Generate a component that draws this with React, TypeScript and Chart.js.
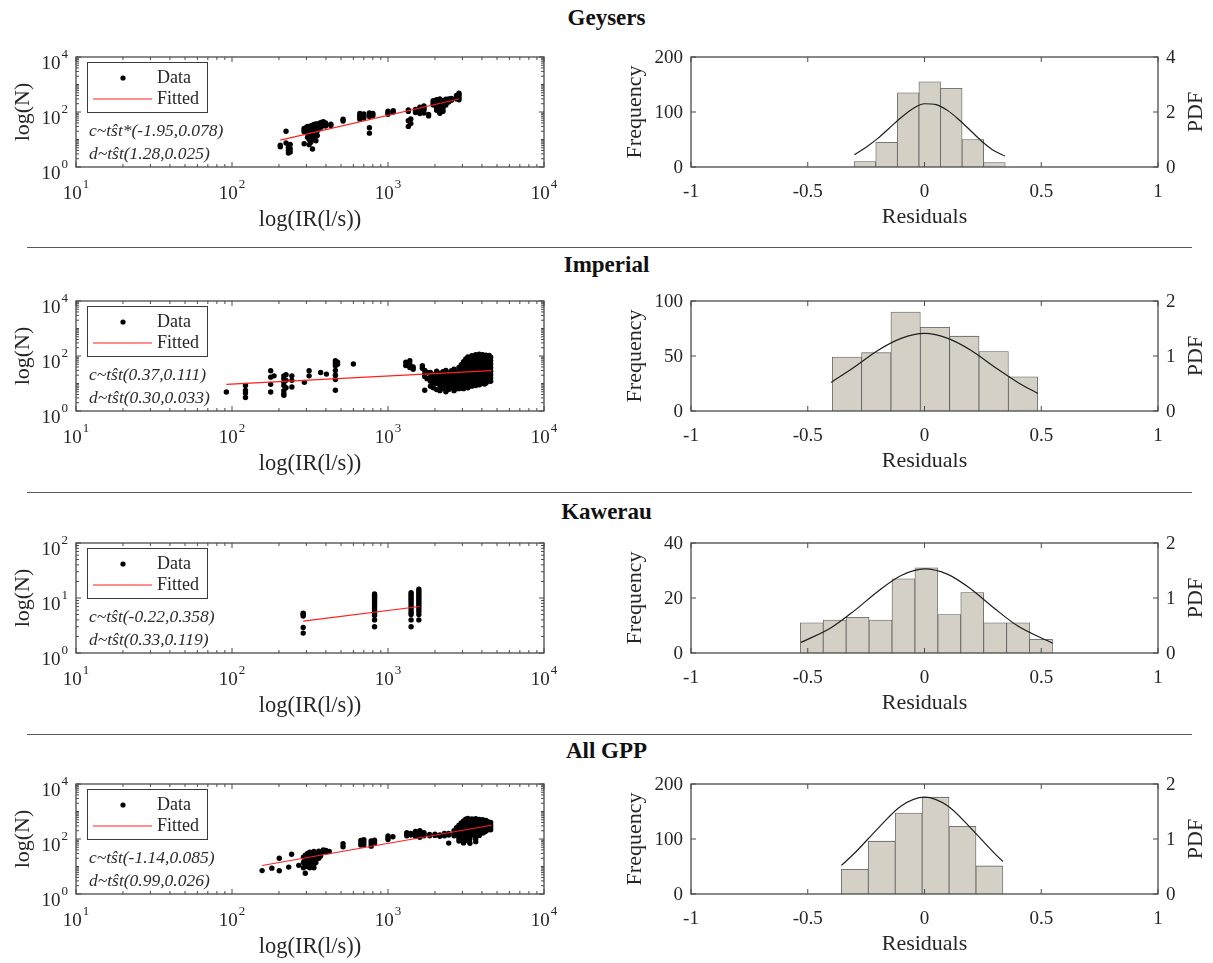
import React, { useEffect, useRef } from 'react';
import { Chart, registerables } from 'chart.js';

Chart.register(...registerables);

const SERIF = '"Liberation Serif", "Times New Roman", serif';
const INK = '#262626';
const FRAME = '#4a4a4a';
const BAR_FILL = '#d5d0c6';
const BAR_EDGE = '#5c5c5c';
const FIT_RED = '#ff1f1f';

// Axis tick labels
const irTickExps = [1, 2, 3, 4];
const nTickExps = [0, 2, 4];
const kawerauNTickExps = [0, 1, 2];
const residualTicks = [-1, -0.5, 0, 0.5, 1];

const irAxisTitle = 'log(IR(l/s))';
const nAxisTitle = 'log(N)';
const residualAxisTitle = 'Residuals';
const freqAxisTitle = 'Frequency';
const pdfAxisTitle = 'PDF';

// ---------- Geysers ----------
const geysersIR = [204, 222, 230, 236, 290, 298, 305, 312, 320, 328, 336, 345, 352, 360, 372, 385, 398, 430, 515, 660, 700, 760, 800, 1000, 1080, 1350, 1400, 1500, 1600, 1700, 1820, 1950, 2050, 2150, 2250, 2350, 2450, 2550, 2750, 2850];
const geysersN = [
  [5.4, 6.2], [20, 7.5], [3.2, 4.1, 5.2], [3.5, 4.6, 6.6],
  [22, 25, 19, 7], [24, 27, 21], [26, 30, 23, 17, 12], [28, 22, 15, 10, 6.5], [25, 31, 19, 14, 8], [22, 27, 33, 17, 12, 4.5], [20, 26, 35, 15, 10], [24, 29, 37, 18, 13, 9], [27, 32, 21, 14], [30, 38, 24], [34, 42, 28], [38, 44, 33], [40, 35, 31], [32, 36],
  [47, 55], [55, 65, 75, 88], [60, 72, 85], [68, 80, 92, 27, 17], [75, 88], [82, 95, 108], [100, 112], [105, 118, 48, 30], [38, 56], [110, 125, 95], [130, 150, 100, 88], [120, 165, 140, 92], [72, 82],
  [180, 230, 260, 200], [210, 250, 280, 170, 140, 115], [230, 270, 300, 190, 100, 90, 150], [200, 240, 260, 150, 120, 105], [250, 290, 220, 180], [260, 300, 230], [270, 310], [300, 350, 400], [320, 380, 430, 480, 280],
];
const geysersFitIR = [204, 2850];
const geysersFitN = [9.5, 296];
const geysersNotes = ['c~tŝt*(-1.95,0.078)', 'd~tŝt(1.28,0.025)'];
const geysersBinCenters = [-0.2548, -0.1624, -0.07, 0.0224, 0.1148, 0.2072, 0.2996];
const geysersCounts = [10, 45, 135, 155, 143, 50, 8];
const geysersPdfX = [-0.3, -0.25, -0.2, -0.15, -0.1, -0.05, 0, 0.05, 0.1, 0.15, 0.2, 0.25, 0.3, 0.345];
const geysersPdfY = [0.45, 0.72, 1.04, 1.42, 1.8, 2.12, 2.3, 2.27, 2.05, 1.7, 1.3, 0.9, 0.58, 0.4];
const geysersFreqTicks = [0, 100, 200];
const geysersPdfTicks = [0, 2, 4];

// ---------- Imperial ----------
const imperialIR = [92, 122, 177, 186, 215, 222, 242, 291, 312, 370, 403, 460, 475, 600, 1300, 1380, 1450, 1660, 1720, 1780, 1870, 1950, 2050, 2150, 2250, 2350, 2450, 2550, 2650, 2750, 2850, 2950, 3050, 3150, 3250, 3350, 3450, 3550, 3650, 3750, 3850, 3950, 4050, 4150, 4250, 4350, 4450, 4550];
const imperialN = [
  [4.9], [8.5, 5.6, 4.5, 3.1], [29, 17, 9.3, 4.9], [19], [19, 15, 11, 8.5, 5.5, 4.3, 3.7], [21, 13, 7], [19, 13, 7.5], [11], [29, 19], [25], [22], [67, 55, 44, 30, 20, 14, 5.7], [60, 50], [51],
  [60, 45], [67, 50, 38], [40, 33], [44, 36], [30, 22, 18, 5.7], [25, 15],
  [25, 17, 12, 8], [21, 15, 10.5, 7], [28, 20, 14, 10, 6], [23, 16, 11.5, 8.5, 5.5], [27, 19, 13.5, 9.5, 6.5], [30, 21, 15, 10.5, 7.5, 5], [24, 17, 12, 8.5, 6], [29, 20, 14, 10, 7], [33, 23, 16, 11, 8, 5.5], [27, 19, 13, 9, 6.5], [38, 26, 18, 12.5, 9, 6.5],
  [48, 36, 28, 21, 16, 12, 9, 7], [62, 47, 36, 27, 20, 15, 11, 8.5, 6.5], [78, 60, 45, 34, 26, 19, 14, 10.5, 8], [92, 70, 53, 40, 30, 23, 17, 13, 9.5, 7], [86, 66, 50, 38, 29, 22, 16, 12, 9], [102, 78, 59, 45, 34, 26, 19, 14, 10.5, 8], [96, 73, 55, 42, 32, 24, 18, 13, 10], [112, 85, 64, 48, 36, 27, 20, 15, 11, 8.5], [106, 80, 60, 45, 34, 25, 19, 14, 10], [116, 88, 66, 50, 38, 28, 21, 16, 12, 9], [100, 76, 57, 43, 32, 24, 18, 13, 10], [112, 84, 63, 47, 35, 26, 20, 15, 11], [98, 74, 56, 42, 31, 23, 17, 13, 9.5], [108, 82, 61, 46, 34, 25, 19, 14, 10.5], [94, 71, 53, 40, 30, 22, 16, 12], [104, 78, 58, 44, 33, 24, 18, 13.5], [90, 68, 51, 38, 28, 21, 16, 12],
];
const imperialFitIR = [92, 4600];
const imperialFitN = [9.3, 29.4];
const imperialNotes = ['c~tŝt(0.37,0.111)', 'd~tŝt(0.30,0.033)'];
const imperialBinCenters = [-0.3322, -0.2065, -0.0808, 0.0449, 0.1706, 0.2963, 0.422];
const imperialCounts = [49, 53, 90, 76, 68, 54, 31];
const imperialPdfX = [-0.4, -0.3, -0.2, -0.1, 0, 0.1, 0.2, 0.3, 0.4, 0.485];
const imperialPdfY = [0.52, 0.8, 1.1, 1.32, 1.41, 1.32, 1.1, 0.8, 0.52, 0.32];
const imperialFreqTicks = [0, 50, 100];
const imperialPdfTicks = [0, 1, 2];

// ---------- Kawerau ----------
const kawerauIR = [286, 820, 1406, 1577];
const kawerauN = [
  [5.3, 5.0, 4.7, 2.9, 2.3],
  [11.8, 11.2, 10.6, 10.0, 9.4, 8.8, 8.2, 7.6, 7.0, 6.4, 5.8, 5.3, 4.8, 4.0, 3.0],
  [12.5, 11.6, 10.7, 9.8, 9.0, 8.2, 7.5, 6.8, 6.1, 5.5, 5.0, 4.0, 3.0],
  [14.5, 13.5, 12.5, 11.5, 10.6, 9.8, 9.0, 8.3, 7.6, 7.0, 6.3, 5.7, 5.0, 4.0],
];
const kawerauFitIR = [286, 1600];
const kawerauFitN = [3.8, 7.0];
const kawerauNotes = ['c~tŝt(-0.22,0.358)', 'd~tŝt(0.33,0.119)'];
const kawerauBinCenters = [-0.4829, -0.3847, -0.2865, -0.1883, -0.0901, 0.0081, 0.1063, 0.2045, 0.3027, 0.4009, 0.4991];
const kawerauCounts = [11, 12, 13, 12, 27, 31, 14, 22, 11, 11, 5];
const kawerauPdfX = [-0.53, -0.4, -0.3, -0.2, -0.1, 0, 0.1, 0.2, 0.3, 0.4, 0.548];
const kawerauPdfY = [0.19, 0.46, 0.77, 1.12, 1.41, 1.53, 1.43, 1.16, 0.81, 0.49, 0.18];
const kawerauFreqTicks = [0, 20, 40];
const kawerauPdfTicks = [0, 1, 2];

// ---------- All GPP ----------
const allIR = [156, 180, 201, 231, 241, 268, 287, 295, 305, 315, 325, 335, 345, 360, 370, 385, 400, 420, 515, 670, 700, 780, 820, 1000, 1075, 1320, 1400, 1500, 1600, 1700, 1850, 2000, 2150, 2300, 2450, 2650, 2750, 2850, 2950, 3050, 3150, 3250, 3350, 3450, 3550, 3650, 3750, 3850, 3950, 4050, 4150, 4250, 4400, 4550];
const allN = [
  [7.1], [8.7], [20, 7], [9.5], [28], [11],
  [22, 14, 9], [26, 18, 12, 5.7], [30, 23, 16, 10], [33, 25, 19, 13, 9], [28, 21, 15, 11], [35, 26, 18, 12, 9], [30, 22, 14], [36, 27, 20], [32, 24], [40, 36], [38, 34], [35],
  [67, 52], [60, 72, 88], [62, 78, 95], [55, 68, 85], [72, 90], [95, 110, 130], [120], [130, 150, 170], [140, 160], [150, 190, 125], [160, 200, 140, 115], [130, 150, 170], [130, 145], [135, 150], [140, 125], [130, 150, 160], [140, 71, 160],
  [200, 160, 130], [260, 210, 170, 140], [320, 260, 210, 170, 135, 105, 85], [380, 300, 240, 195, 155, 120], [450, 360, 290, 230, 185, 150, 115, 90, 72], [520, 420, 330, 265, 210, 170, 135], [560, 450, 360, 290, 230, 185, 150, 115, 88], [500, 400, 320, 255, 205, 165, 130, 100, 70], [540, 430, 345, 275, 220, 175, 140], [480, 385, 310, 250, 200, 160], [550, 440, 350, 280, 225, 180, 140, 105, 80],
  [470, 375, 300, 240, 190, 150], [510, 410, 330, 265, 210, 170, 135], [460, 370, 295, 235, 190], [500, 400, 320, 255, 205, 165], [440, 350, 280, 225, 180], [470, 380, 300, 240, 195], [420, 340, 275, 220], [400, 320, 260, 215],
];
const allFitIR = [156, 4600];
const allFitN = [10.9, 316];
const allNotes = ['c~tŝt(-1.14,0.085)', 'd~tŝt(0.99,0.026)'];
const allBinCenters = [-0.2984, -0.1831, -0.0678, 0.0475, 0.1628, 0.2781];
const allCounts = [45, 96, 147, 176, 123, 51];
const allPdfX = [-0.356, -0.3, -0.2, -0.1, 0, 0.1, 0.2, 0.3, 0.336];
const allPdfY = [0.52, 0.74, 1.19, 1.6, 1.76, 1.6, 1.19, 0.74, 0.59];
const allFreqTicks = [0, 100, 200];
const allPdfTicks = [0, 1, 2];

// Figure layout (page pixels)
const separatorYs = [247, 492, 734];

const rows = [
  { title: 'Geysers', top: 57, titleY: 19, ir: geysersIR, n: geysersN, fitIR: geysersFitIR, fitN: geysersFitN, notes: geysersNotes, nExps: nTickExps, bins: geysersBinCenters, counts: geysersCounts, pdfX: geysersPdfX, pdfY: geysersPdfY, freqTicks: geysersFreqTicks, pdfTicks: geysersPdfTicks },
  { title: 'Imperial', top: 301, titleY: 266, ir: imperialIR, n: imperialN, fitIR: imperialFitIR, fitN: imperialFitN, notes: imperialNotes, nExps: nTickExps, bins: imperialBinCenters, counts: imperialCounts, pdfX: imperialPdfX, pdfY: imperialPdfY, freqTicks: imperialFreqTicks, pdfTicks: imperialPdfTicks },
  { title: 'Kawerau', top: 543, titleY: 513, ir: kawerauIR, n: kawerauN, fitIR: kawerauFitIR, fitN: kawerauFitN, notes: kawerauNotes, nExps: kawerauNTickExps, bins: kawerauBinCenters, counts: kawerauCounts, pdfX: kawerauPdfX, pdfY: kawerauPdfY, freqTicks: kawerauFreqTicks, pdfTicks: kawerauPdfTicks },
  { title: 'All GPP', top: 784, titleY: 752, ir: allIR, n: allN, fitIR: allFitIR, fitN: allFitN, notes: allNotes, nExps: nTickExps, bins: allBinCenters, counts: allCounts, pdfX: allPdfX, pdfY: allPdfY, freqTicks: allFreqTicks, pdfTicks: allPdfTicks },
];

type Row = (typeof rows)[number];

function line(ctx: CanvasRenderingContext2D, x1: number, y1: number, x2: number, y2: number) {
  ctx.beginPath();
  ctx.moveTo(x1, y1);
  ctx.lineTo(x2, y2);
  ctx.stroke();
}

function rotatedText(ctx: CanvasRenderingContext2D, text: string, x: number, y: number) {
  ctx.save();
  ctx.translate(x, y);
  ctx.rotate(-Math.PI / 2);
  ctx.textAlign = 'center';
  ctx.textBaseline = 'middle';
  ctx.fillText(text, 0, 0);
  ctx.restore();
}

function drawFrame(ctx: CanvasRenderingContext2D, a: any) {
  ctx.strokeStyle = FRAME;
  ctx.lineWidth = 1.3;
  ctx.strokeRect(a.left, a.top, a.right - a.left, a.bottom - a.top);
}

// "10" with a raised exponent
function drawPower(ctx: CanvasRenderingContext2D, exp: number, x: number, base: number, align: 'center' | 'right') {
  ctx.textAlign = 'left';
  ctx.textBaseline = 'alphabetic';
  ctx.font = `19px ${SERIF}`;
  const w1 = ctx.measureText('10').width;
  ctx.font = `13px ${SERIF}`;
  const w2 = ctx.measureText(String(exp)).width;
  const total = w1 + 1 + w2;
  const x0 = align === 'center' ? x - total / 2 : x - total;
  ctx.font = `19px ${SERIF}`;
  ctx.fillText('10', x0, base);
  ctx.font = `13px ${SERIF}`;
  ctx.fillText(String(exp), x0 + w1 + 1, base - 11);
}

function logMinors(min: number, max: number, majors: number[]) {
  const out: number[] = [];
  for (let e = Math.round(Math.log10(min)); Math.pow(10, e) < max; e++) {
    for (let k = 1; k <= 9; k++) {
      const v = k * Math.pow(10, e);
      if (v > min && v < max && !majors.includes(v)) out.push(v);
    }
  }
  return out;
}

function scatterDeco(row: Row) {
  return {
    id: 'scatterDeco',
    afterDatasetsDraw(chart: any) {
      const ctx: CanvasRenderingContext2D = chart.ctx;
      const a = chart.chartArea;
      const sx = chart.scales.x;
      const sy = chart.scales.y;
      const ds = chart.data.datasets;
      ctx.save();

      // legend
      const lx = a.left + 11;
      const ly = a.top + 5;
      ctx.fillStyle = '#fff';
      ctx.fillRect(lx, ly, 120, 50);
      ctx.strokeStyle = '#3a3a3a';
      ctx.lineWidth = 1;
      ctx.strokeRect(lx + 0.5, ly + 0.5, 120, 50);
      ctx.fillStyle = '#000';
      ctx.beginPath();
      ctx.arc(a.left + 47, a.top + 21, 2.6, 0, Math.PI * 2);
      ctx.fill();
      ctx.strokeStyle = FIT_RED;
      ctx.lineWidth = 1.2;
      line(ctx, a.left + 17, a.top + 42, a.left + 76, a.top + 42);
      ctx.fillStyle = INK;
      ctx.font = `18px ${SERIF}`;
      ctx.textAlign = 'left';
      ctx.textBaseline = 'middle';
      ctx.fillText(String(ds[0].label), a.left + 81, a.top + 21);
      ctx.fillText(String(ds[1].label), a.left + 81, a.top + 42);

      // fit parameters
      ctx.font = `italic 17.5px ${SERIF}`;
      ctx.fillStyle = '#2c2c2c';
      row.notes.forEach((t, i) => ctx.fillText(t, a.left + 13, a.top + 74 + 23 * i));

      // box and inward ticks
      drawFrame(ctx, a);
      ctx.lineWidth = 1;
      const xMajors = irTickExps.map((e) => Math.pow(10, e));
      const yMajors = row.nExps.map((e) => Math.pow(10, e));
      const yMin = yMajors[0];
      const yMax = yMajors[yMajors.length - 1];
      for (const v of xMajors) {
        const px = sx.getPixelForValue(v);
        line(ctx, px, a.bottom, px, a.bottom - 5);
        line(ctx, px, a.top, px, a.top + 5);
      }
      for (const v of logMinors(10, 10000, xMajors)) {
        const px = sx.getPixelForValue(v);
        line(ctx, px, a.bottom, px, a.bottom - 3);
        line(ctx, px, a.top, px, a.top + 3);
      }
      for (const v of yMajors) {
        const py = sy.getPixelForValue(v);
        line(ctx, a.left, py, a.left + 5, py);
        line(ctx, a.right, py, a.right - 5, py);
      }
      for (const v of logMinors(yMin, yMax, yMajors)) {
        const py = sy.getPixelForValue(v);
        line(ctx, a.left, py, a.left + 3, py);
        line(ctx, a.right, py, a.right - 3, py);
      }

      // tick labels
      ctx.fillStyle = INK;
      for (const e of irTickExps) drawPower(ctx, e, sx.getPixelForValue(Math.pow(10, e)), a.bottom + 32, 'center');
      for (const e of row.nExps) drawPower(ctx, e, a.left - 8, sy.getPixelForValue(Math.pow(10, e)) + 12, 'right');

      // axis titles
      ctx.textAlign = 'center';
      ctx.textBaseline = 'middle';
      ctx.font = `22.5px ${SERIF}`;
      ctx.fillText(irAxisTitle, (a.left + a.right) / 2, a.bottom + 53);
      ctx.font = `22px ${SERIF}`;
      rotatedText(ctx, nAxisTitle, 23, (a.top + a.bottom) / 2);
      ctx.restore();
    },
  };
}

function histDeco(row: Row) {
  return {
    id: 'histDeco',
    afterDatasetsDraw(chart: any) {
      const ctx: CanvasRenderingContext2D = chart.ctx;
      const a = chart.chartArea;
      const sx = chart.scales.x;
      const sy = chart.scales.y;
      const sy2 = chart.scales.y1;
      ctx.save();
      drawFrame(ctx, a);
      ctx.lineWidth = 1;
      for (const v of residualTicks) {
        const px = sx.getPixelForValue(v);
        line(ctx, px, a.bottom, px, a.bottom - 5);
        line(ctx, px, a.top, px, a.top + 5);
      }
      for (const v of row.freqTicks) {
        const py = sy.getPixelForValue(v);
        line(ctx, a.left, py, a.left + 5, py);
      }
      for (const v of row.pdfTicks) {
        const py = sy2.getPixelForValue(v);
        line(ctx, a.right, py, a.right - 5, py);
      }

      ctx.fillStyle = INK;
      ctx.font = `19px ${SERIF}`;
      ctx.textBaseline = 'alphabetic';
      ctx.textAlign = 'center';
      for (const v of residualTicks) ctx.fillText(String(v), sx.getPixelForValue(v), a.bottom + 29.5);
      ctx.textAlign = 'right';
      for (const v of row.freqTicks) ctx.fillText(String(v), a.left - 8, sy.getPixelForValue(v) + 6.4);
      ctx.textAlign = 'left';
      for (const v of row.pdfTicks) ctx.fillText(String(v), a.right + 8, sy2.getPixelForValue(v) + 6.4);

      ctx.font = `22px ${SERIF}`;
      ctx.textAlign = 'center';
      ctx.textBaseline = 'middle';
      ctx.fillText(residualAxisTitle, (a.left + a.right) / 2, a.bottom + 50);
      rotatedText(ctx, freqAxisTitle, 35, (a.top + a.bottom) / 2);
      rotatedText(ctx, pdfAxisTitle, 596, (a.top + a.bottom) / 2);
      ctx.restore();
    },
  };
}

function ScatterPanel({ row }: { row: Row }) {
  const ref = useRef<HTMLCanvasElement>(null);
  useEffect(() => {
    const points = row.ir.flatMap((ir, i) => (row.n[i] || []).map((n) => ({ x: ir, y: n })));
    const fit = row.fitIR.map((x, i) => ({ x, y: row.fitN[i] }));
    const yMajors = row.nExps.map((e) => Math.pow(10, e));
    const chart = new Chart(ref.current as HTMLCanvasElement, {
      type: 'scatter',
      data: {
        datasets: [
          { label: 'Data', data: points, pointRadius: 2.7, pointBackgroundColor: '#000', backgroundColor: '#000', pointBorderWidth: 0, order: 2 },
          { label: 'Fitted', data: fit, showLine: true, borderColor: FIT_RED, borderWidth: 1.2, pointRadius: 0, order: 1 },
        ],
      },
      options: {
        animation: false,
        responsive: false,
        devicePixelRatio: 1,
        events: [],
        layout: { padding: { left: 76, right: 56, top: 10, bottom: 80 } },
        plugins: { legend: { display: false }, tooltip: { enabled: false } },
        scales: {
          x: { type: 'logarithmic', min: 10, max: 10000, display: false },
          y: { type: 'logarithmic', min: yMajors[0], max: yMajors[yMajors.length - 1], display: false },
        },
      },
      plugins: [scatterDeco(row)],
    } as any);
    return () => chart.destroy();
  }, [row]);
  return (
    <div style={{ position: 'absolute', left: 0, top: row.top - 10, width: 600, height: 200 }}>
      <canvas ref={ref} width={600} height={200} />
    </div>
  );
}

function HistPanel({ row }: { row: Row }) {
  const ref = useRef<HTMLCanvasElement>(null);
  useEffect(() => {
    const bars = row.bins.map((x, i) => ({ x, y: row.counts[i] }));
    const pdf = row.pdfX.map((x, i) => ({ x, y: row.pdfY[i] }));
    const chart = new Chart(ref.current as HTMLCanvasElement, {
      type: 'bar',
      data: {
        datasets: [
          { type: 'line', label: 'PDF', data: pdf, yAxisID: 'y1', borderColor: '#1e1e1e', borderWidth: 1.2, pointRadius: 0, cubicInterpolationMode: 'monotone', order: 1 },
          { type: 'bar', label: 'Frequency', data: bars, yAxisID: 'y', backgroundColor: BAR_FILL, borderColor: BAR_EDGE, borderWidth: 0.8, barPercentage: 1, categoryPercentage: 1, order: 2 },
        ],
      },
      options: {
        animation: false,
        responsive: false,
        devicePixelRatio: 1,
        events: [],
        layout: { padding: { left: 91, right: 55, top: 10, bottom: 80 } },
        plugins: { legend: { display: false }, tooltip: { enabled: false } },
        scales: {
          x: { type: 'linear', min: -1, max: 1, offset: false, display: false },
          y: { type: 'linear', min: 0, max: row.freqTicks[row.freqTicks.length - 1], display: false },
          y1: { type: 'linear', position: 'right', min: 0, max: row.pdfTicks[row.pdfTicks.length - 1], display: false },
        },
      },
      plugins: [histDeco(row)],
    } as any);
    return () => chart.destroy();
  }, [row]);
  return (
    <div style={{ position: 'absolute', left: 600, top: row.top - 10, width: 613, height: 200 }}>
      <canvas ref={ref} width={613} height={200} />
    </div>
  );
}

export default function App() {
  return (
    <div style={{ position: 'absolute', left: 0, top: 0, width: 1213, height: 963, background: '#fff', overflow: 'hidden' }}>
      {rows.map((row) => (
        <React.Fragment key={row.title}>
          <div
            style={{
              position: 'absolute',
              left: 0,
              width: 1213,
              top: row.titleY - 14,
              height: 28,
              lineHeight: '28px',
              textAlign: 'center',
              font: `bold 23px ${SERIF}`,
              color: '#111',
            }}
          >
            {row.title}
          </div>
          <ScatterPanel row={row} />
          <HistPanel row={row} />
        </React.Fragment>
      ))}
      {separatorYs.map((y) => (
        <div key={y} style={{ position: 'absolute', left: 27, width: 1165, top: y, height: 0, borderTop: '1.5px solid #5a5a5a' }} />
      ))}
    </div>
  );
}
